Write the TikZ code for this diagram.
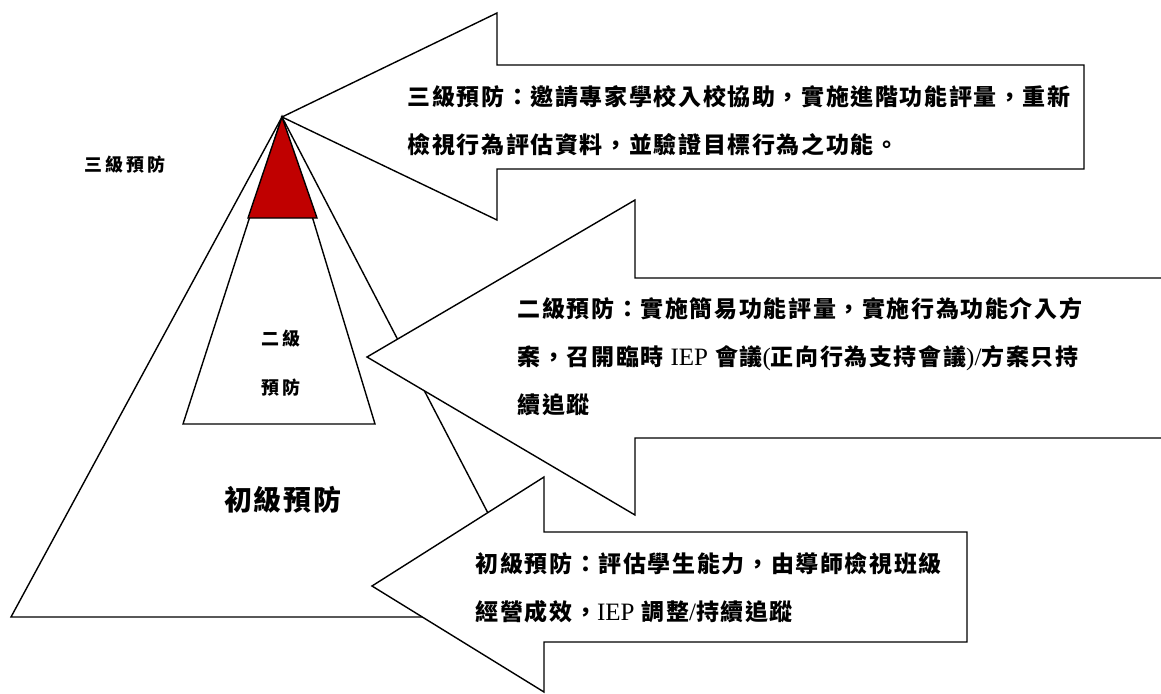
\documentclass[tikz,border=0pt]{standalone}
\usepackage{fontspec}
\newfontfamily\cjk[LetterSpace=7]{Noto Sans CJK TC}
\newfontfamily\cjkwide[LetterSpace=16]{Noto Sans CJK TC}
\newfontfamily\latinpart{Liberation Serif}
\newcommand\en[1]{{\latinpart\mdseries\fontsize{25}{48}\selectfont #1}}
\definecolor{topred}{RGB}{192,0,0}
\begin{document}
\begin{tikzpicture}
	[x=1pt, y=-1pt, line width=1.4pt,
	level/.style={draw, fill=white},
	callout/.style={draw, fill=white},
	tag/.style={inner sep=0pt, font=\cjkwide\bfseries\fontsize{18}{18}\selectfont},
	note/.style={inner sep=0pt, anchor=west, align=left, font=\cjk\bfseries\fontsize{23}{48}\selectfont}]
	\useasboundingbox (0,0) rectangle (1161,693);
	% pyramid
	\draw[level] (282,117) -- (11,617) -- (542,617) -- cycle;
	\draw[level] (282,117) -- (183,424) -- (375,424) -- cycle;
	\draw[level, fill=topred] (282,117) -- (248,218) -- (317,218) -- cycle;
	\node[tag] (third) at (125,165) {三級預防};
	\node[tag] (secondA) at (281,339) {二級};
	\node[tag] (secondB) at (281,388) {預防};
	\node[tag, font=\cjk\bfseries\fontsize{28}{30}\selectfont] (first) at (283,500) {初級預防};
	% arrows
	\draw[callout] (282,117) -- (497,13) -- (497,65) -- (1084,65) -- (1084,169) -- (497,169) -- (497,220) -- cycle;
	\draw[callout] (367,357) -- (635,200) -- (635,278) -- (1170,278) -- (1170,438) -- (635,438) -- (635,515) -- cycle;
	\draw[callout] (372,586) -- (544,477) -- (544,532) -- (967,532) -- (967,642) -- (544,642) -- (544,692) -- cycle;
	\node[note] (tertiary) at (407,121) {三級預防：邀請專家學校入校協助，實施進階功能評量，重新\\檢視行為評估資料，並驗證目標行為之功能。};
	\node[note] (secondary) at (517,357) {二級預防：實施簡易功能評量，實施行為功能介入方\\案，召開臨時 \en{IEP} 會議\en{(}正向行為支持會議\en{)/}方案只持\\續追蹤};
	\node[note] (primary) at (475,588) {初級預防：評估學生能力，由導師檢視班級\\經營成效，\en{IEP} 調整\en{/}持續追蹤};
\end{tikzpicture}
\end{document}
